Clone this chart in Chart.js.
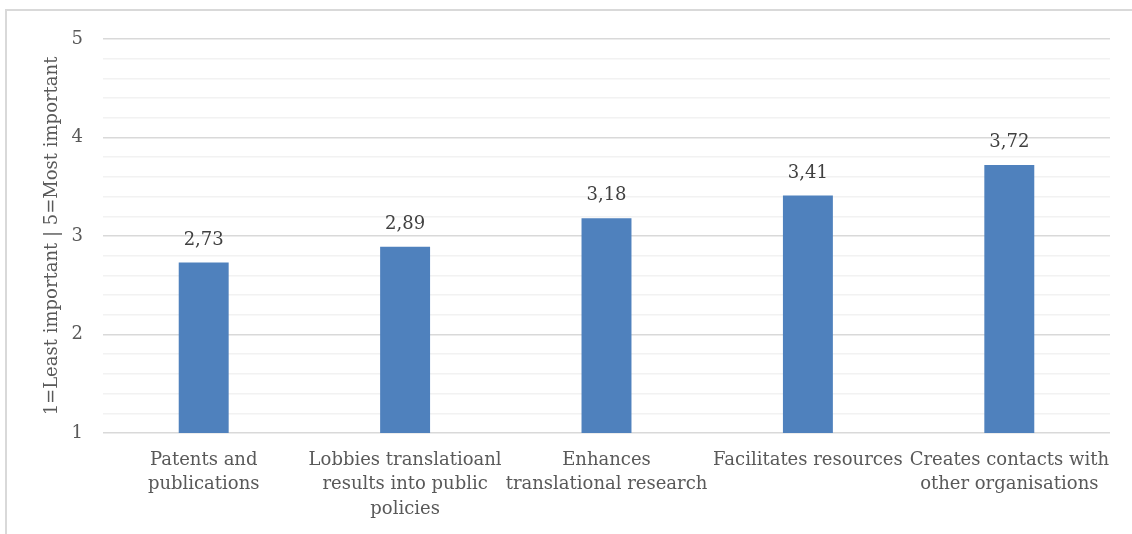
<!DOCTYPE html>
<html>
<head>
<meta charset="utf-8">
<script src="https://cdn.jsdelivr.net/npm/chart.js@4/dist/chart.umd.min.js"></script>
<style>
  html, body { margin: 0; padding: 0; background: #ffffff; }
  #wrap { position: relative; width: 1132px; height: 534px; overflow: hidden; }
  #frame { position: absolute; left: 5px; top: 9px; width: 1140px; height: 540px;
           border-left: 2px solid #d9d9d9; border-top: 2px solid #d9d9d9; box-sizing: border-box; }
  canvas { position: absolute; left: 0; top: 0; }
</style>
</head>
<body>
<div id="wrap">
  <div id="frame"></div>
  <canvas id="chart" width="1132" height="534"></canvas>
</div>
<script>
// Categories (wrapped into lines for the axis) and mean importance scores
const categories = [
  ['Patents and', 'publications'],
  ['Lobbies translatioanl', 'results into public', 'policies'],
  ['Enhances', 'translational research'],
  ['Facilitates resources'],
  ['Creates contacts with', 'other organisations']
];
const scores = [2.73, 2.89, 3.18, 3.41, 3.72];
const yAxisTitle = '1=Least important | 5=Most important';
const yMin = 1;
const yMax = 5;

const FONT = '"DejaVu Serif", serif';
const TEXT = '#595959';

// Writes each bar's value above it, with a decimal comma
const valueLabels = {
  id: 'valueLabels',
  afterDatasetsDraw(chart) {
    const ctx = chart.ctx;
    const meta = chart.getDatasetMeta(0);
    ctx.save();
    ctx.font = '18px ' + FONT;
    ctx.fillStyle = '#404040';
    ctx.textAlign = 'center';
    ctx.textBaseline = 'alphabetic';
    meta.data.forEach((bar, i) => {
      const txt = scores[i].toFixed(2).replace('.', ',');
      ctx.fillText(txt, bar.x, bar.y - 18);
    });
    ctx.restore();
  }
};

const isWhole = v => Math.abs(v - Math.round(v)) < 1e-6;

new Chart(document.getElementById('chart'), {
  type: 'bar',
  data: {
    labels: categories,
    datasets: [{
      data: scores,
      backgroundColor: '#4f81bd',
      borderWidth: 0,
      categoryPercentage: 1,
      barPercentage: 0.248
    }]
  },
  options: {
    responsive: false,
    animation: false,
    layout: { padding: { top: 39, right: 22, left: 0, bottom: 0 } },
    plugins: { legend: { display: false }, tooltip: { enabled: false } },
    scales: {
      x: {
        grid: { display: false, drawTicks: false },
        border: { display: false },
        ticks: {
          color: TEXT,
          font: { family: FONT, size: 18, lineHeight: 1.36 },
          padding: 15,
          maxRotation: 0,
          autoSkip: false
        },
        afterFit(scale) { scale.height = 101; }
      },
      y: {
        min: yMin,
        max: yMax,
        border: { display: false },
        grid: {
          drawTicks: false,
          lineWidth: 1.5,
          color: c => isWhole(c.tick.value) ? '#d9d9d9' : '#f2f2f2'
        },
        ticks: {
          stepSize: 0.2,
          autoSkip: false,
          color: TEXT,
          padding: 20,
          font: { family: FONT, size: 18 },
          callback: v => isWhole(v) ? String(Math.round(v)) : ''
        },
        title: {
          display: true,
          text: yAxisTitle,
          color: TEXT,
          font: { family: FONT, size: 18 },
          padding: { top: 42, bottom: 0 }
        },
        afterFit(scale) { scale.width = 103; }
      }
    }
  },
  plugins: [valueLabels]
});
</script>
</body>
</html>
